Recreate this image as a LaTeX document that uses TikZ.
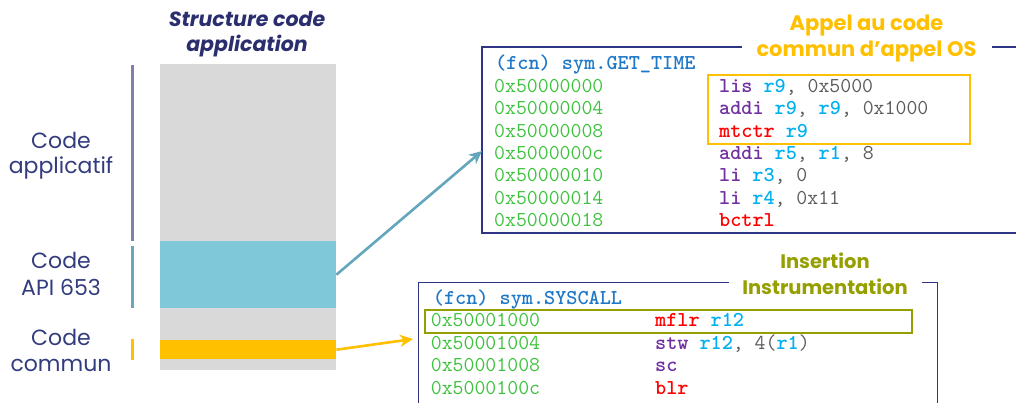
\documentclass[tikz,border=0pt]{standalone}
\usepackage{fontspec}
\setmainfont{Poppins}
\usetikzlibrary{arrows.meta}

\definecolor{navy}{HTML}{2E3585}
\definecolor{titlecol}{HTML}{2A2D6E}
\definecolor{labelcol}{HTML}{333C7E}
\definecolor{bargray}{HTML}{D9D9D9}
\definecolor{apiblue}{HTML}{7EC8DA}
\definecolor{gold}{HTML}{FFC000}
\definecolor{olive}{HTML}{95A000}
\definecolor{appline}{HTML}{8080B0}
\definecolor{apiline}{HTML}{6AA6BA}
\definecolor{arrowblue}{HTML}{64A6BC}
\definecolor{addr}{HTML}{3EC23E}
\definecolor{mnem}{HTML}{7030A0}
\definecolor{reg}{HTML}{00B0F0}
\definecolor{jump}{HTML}{FF0000}
\definecolor{num}{HTML}{5A5A5A}
\definecolor{fcn}{HTML}{1E78C8}

% syntax colouring of the listings
\newcommand\ad[1]{\textcolor{addr}{#1}}
\newcommand\mn[1]{\textcolor{mnem}{\bfseries #1}}
\newcommand\rg[1]{\textcolor{reg}{\bfseries #1}}
\newcommand\ju[1]{\textcolor{jump}{\bfseries #1}}
\newcommand\nm[1]{\textcolor{num}{#1}}
\newcommand\fc[1]{\textcolor{fcn}{\bfseries #1}}

\tikzset{
  sidelabel/.style={text=labelcol, font=\fontsize{22}{26}\selectfont, anchor=base, inner sep=0pt},
  headline/.style={text=titlecol, font=\bfseries\itshape\fontsize{20.5}{25}\selectfont, anchor=base, inner sep=0pt},
  code/.style={anchor=base west, inner sep=0pt, font=\ttfamily\fontsize{21.2}{24}\selectfont},
  frameline/.style={draw=navy, line width=1.6pt},
  band/.style={anchor=north west, inner sep=0pt, minimum width=176pt},
  marker/.style={line width=3pt},
  callout/.style={anchor=base, inner sep=0pt},
  hlbox/.style={line width=1.8pt, inner sep=0pt, anchor=north west},
}

\begin{document}
\begin{tikzpicture}[x=1pt, y=-1pt]
\useasboundingbox (0,0) rectangle (1016,402);

% ---------- structure of the application code ----------
\node[headline] (title1) at (247,26.7) {Structure code};
\node[headline] (title2) at (247,51.7) {application};

\node[band, fill=bargray, minimum height=306pt] (bar) at (160,64) {};
\node[band, fill=apiblue, minimum height=67pt] (api) at (160,241) {};
\node[band, fill=gold, minimum height=19pt] (commun) at (160,340) {};

\draw[marker, appline] (132,65) coordinate (m1a) -- (132,241) coordinate (m1b);
\draw[marker, apiline] (132,246) coordinate (m2a) -- (132,308) coordinate (m2b);
\draw[marker, gold] (132,339) coordinate (m3a) -- (132,360) coordinate (m3b);

\node[sidelabel] (lapp1) at (61,148.3) {Code};
\node[sidelabel] (lapp2) at (61,173.3) {applicatif};
\node[sidelabel] (lapi1) at (61,268.3) {Code};
\node[sidelabel] (lapi2) at (61,295)   {API 653};
\node[sidelabel] (lcom1) at (61,345)   {Code};
\node[sidelabel] (lcom2) at (61,371)   {commun};

% ---------- sym.GET_TIME listing ----------
\draw[frameline] (742,46.7) -- (481.7,46.7) coordinate (gtnw) -- (481.7,232.7) -- (1020,232.7);
\draw[frameline] (992,46.7) -- (1020,46.7);
\node[callout, text=gold, font=\bfseries\fontsize{21}{25}\selectfont] (appel1) at (866.5,30.7) {Appel au code};
\node[callout, text=gold, font=\bfseries\fontsize{21}{25}\selectfont] (appel2) at (866.5,56) {commun d’appel OS};

\node[hlbox, draw=gold, minimum width=262pt, minimum height=69pt] (osbox) at (707,74) {};

\node[code] (g0) at (495,69.3)  {\fc{(fcn) sym.GET\_TIME}};
\node[code] (a1) at (494,92.3)  {\ad{0x50000000}};
\node[code] (a2) at (494,114.7) {\ad{0x50000004}};
\node[code] (a3) at (494,137.1) {\ad{0x50000008}};
\node[code] (a4) at (494,159.5) {\ad{0x5000000c}};
\node[code] (a5) at (494,181.9) {\ad{0x50000010}};
\node[code] (a6) at (494,204.3) {\ad{0x50000014}};
\node[code] (a7) at (494,226.7) {\ad{0x50000018}};
\node[code] (i1) at (719,92.3)  {\mn{lis} \rg{r9}\nm{, 0x5000}};
\node[code] (i2) at (719,114.7) {\mn{addi} \rg{r9}\nm{,} \rg{r9}\nm{, 0x1000}};
\node[code] (i3) at (719,137.1) {\ju{mtctr} \rg{r9}};
\node[code] (i4) at (719,159.5) {\mn{addi} \rg{r5}\nm{,} \rg{r1}\nm{, 8}};
\node[code] (i5) at (719,181.9) {\mn{li} \rg{r3}\nm{, 0}};
\node[code] (i6) at (719,204.3) {\mn{li} \rg{r4}\nm{, 0x11}};
\node[code] (i7) at (719,226.7) {\ju{bctrl}};

% ---------- sym.SYSCALL listing ----------
\draw[frameline] (729.3,282.3) -- (418.3,282.3) coordinate (scnw) -- (418.3,410);
\draw[frameline] (921.7,282.3) -- (937.3,282.3) -- (937.3,410);
\node[callout, text=olive, font=\bfseries\fontsize{19.5}{25}\selectfont] (instr1) at (825,268.3) {Insertion};
\node[callout, text=olive, font=\bfseries\fontsize{19.5}{25}\selectfont] (instr2) at (825,294.3) {Instrumentation};

\node[hlbox, draw=olive, minimum width=486.7pt, minimum height=22.7pt] (insbox) at (424,309) {};

\node[code] (s0) at (432.7,304.3) {\fc{(fcn) sym.SYSCALL}};
\node[code] (b1) at (430.7,326.7) {\ad{0x50001000}};
\node[code] (b2) at (430.7,349.2) {\ad{0x50001004}};
\node[code] (b3) at (430.7,371.7) {\ad{0x50001008}};
\node[code] (b4) at (430.7,394.2) {\ad{0x5000100c}};
\node[code] (j1) at (655,326.7) {\ju{mflr} \rg{r12}};
\node[code] (j2) at (655,349.2) {\mn{stw} \rg{r12}\nm{, 4(}\rg{r1}\nm{)}};
\node[code] (j3) at (655,371.7) {\mn{sc}};
\node[code] (j4) at (655,394.2) {\ju{blr}};

% ---------- connectors ----------
\coordinate (gtin) at (482,151);
\coordinate (scin) at (413,339);
\draw[arrowblue, line width=2.6pt, -{Stealth[length=13pt, width=12pt, inset=4pt]}]
  (api.east) -- (gtin);
\draw[gold, line width=2.6pt, -{Stealth[length=13pt, width=12pt, inset=4pt]}]
  (commun.east) -- (scin);
\end{tikzpicture}
\end{document}
